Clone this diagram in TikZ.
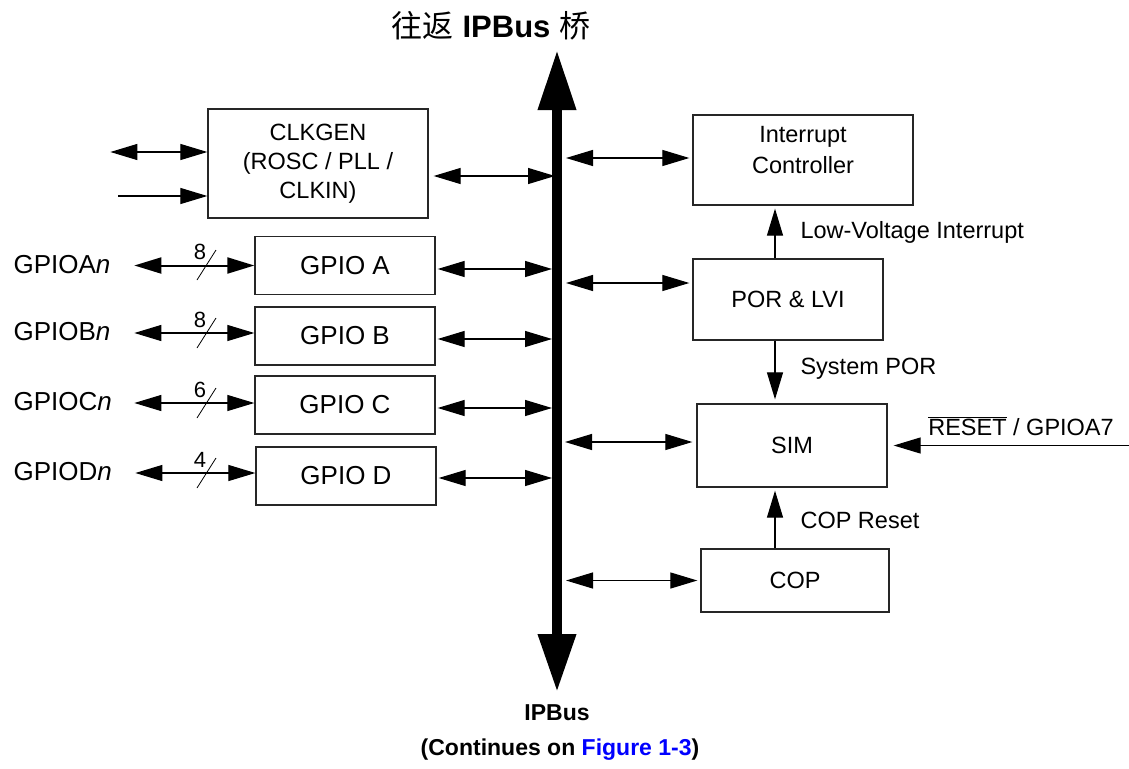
\documentclass[tikz,border=0pt]{standalone}
\usepackage{fontspec}
\setmainfont{Liberation Sans}
\newfontfamily\cjk{Noto Sans CJK SC}
\usetikzlibrary{arrows.meta,calc}
\begin{document}
\begin{tikzpicture}[x=1pt,y=-1pt,
  box/.style={draw=black!85, line width=1.3pt, inner sep=0pt, align=center},
  fmid/.style={font=\fontsize{23.5}{29}\selectfont},
  fbig/.style={font=\fontsize{26}{31}\selectfont},
  fnum/.style={font=\fontsize{22}{26}\selectfont},
  dbl/.style={line width=1.2pt, {Triangle[length=27pt,width=16pt]}-{Triangle[length=27pt,width=16pt]}},
  one/.style={line width=1.2pt, -{Triangle[length=27pt,width=16pt]}},
  busline/.style={line width=10pt, {Triangle[length=58pt,width=36pt]}-{Triangle[length=60pt,width=36pt]}},
  slash/.style={line width=0.8pt}
]
\useasboundingbox (0,0) rectangle (1129,768);

% title
\node[font=\fontsize{31}{37}\selectfont] (title) at (491,26) {{\cjk 往返} \textbf{IPBus} {\cjk 桥}};

% bus
\coordinate (busT) at (557,50);
\coordinate (busB) at (557,692);
\coordinate (busL) at (550,0);
\coordinate (busR) at (569,0);
\draw[busline] (busB) -- (busT);

\node[font=\bfseries\fontsize{23}{28}\selectfont] (ipb) at (557,713) {IPBus};
\node[font=\bfseries\fontsize{23}{28}\selectfont] (cont) at (560,750) {(Continues on \textcolor{blue}{Figure 1-3})};

% left blocks
\node[box, fmid, minimum width=220pt, minimum height=109pt] (clk) at (318,163.5) {CLKGEN\\(ROSC / PLL /\\CLKIN)};
\node[box, fbig, minimum width=180pt, minimum height=58pt] (gpa) at (345,265.5) {GPIO A};
\node[box, fbig, minimum width=180pt, minimum height=58pt] (gpb) at (345,336) {GPIO B};
\node[box, fbig, minimum width=180pt, minimum height=58pt] (gpc) at (345,405) {GPIO C};
\node[box, fbig, minimum width=180pt, minimum height=58pt] (gpd) at (346,476) {GPIO D};

% clkgen connectors
\draw[dbl] ([yshift=11.5pt]clk.west) -- ++(-97,0);
\draw[one] ([yshift=-32.5pt]clk.west) ++(-89,0) -- ([yshift=-32.5pt]clk.west);
\draw[dbl] ([yshift=-12.5pt,xshift=5pt]clk.east) -- ([yshift=-12.5pt,xshift=5pt]clk.east -| busL);

% GPIO labels
\node[fbig, anchor=west] (la) at (10,265) {GPIOA\textit{n}};
\node[fbig, anchor=west] (lb) at (10,332) {GPIOB\textit{n}};
\node[fbig, anchor=west] (lc) at (10,402) {GPIOC\textit{n}};
\node[fbig, anchor=west] (ld) at (10,472) {GPIOD\textit{n}};

% GPIO left connectors
\draw[dbl, line width=2pt] (gpa.west) -- ++(-120,0);
\draw[dbl] ([yshift=3pt]gpb.west) -- ++(-120,0);
\draw[dbl] ([yshift=2pt]gpc.west) -- ++(-120,0);
\draw[dbl] ([yshift=3pt]gpd.west) -- ++(-120,0);

% bus width marks
\draw[slash] (197,280) -- (216,250);
\draw[slash] (197,348) -- (216,318);
\draw[slash] (197,418) -- (216,388);
\draw[slash] (197,488) -- (216,458);
\node[fnum] (na) at (200,252) {8};
\node[fnum] (nb) at (200,320) {8};
\node[fnum] (nc) at (200,390) {6};
\node[fnum] (nd) at (200,460) {4};

% GPIO right connectors
\draw[dbl] ([yshift=-3.5pt,xshift=2pt]gpa.east) -- ([yshift=-3.5pt,xshift=2pt]gpa.east -| busL);
\draw[dbl] ([yshift=-3pt,xshift=2pt]gpb.east) -- ([yshift=-3pt,xshift=2pt]gpb.east -| busL);
\draw[dbl] ([yshift=-3pt,xshift=2pt]gpc.east) -- ([yshift=-3pt,xshift=2pt]gpc.east -| busL);
\draw[dbl] ([yshift=-2pt,xshift=2pt]gpd.east) -- ([yshift=-2pt,xshift=2pt]gpd.east -| busL);

% right blocks
\node[box, minimum width=220pt, minimum height=90pt] (ic) at (803,160) {};
\node[fmid, align=center] (ictext) at (803,150) {Interrupt\\[2pt]Controller};
\node[box, fmid, minimum width=190pt, minimum height=81pt] (por) at (788,299.5) {POR \& LVI};
\node[box, fmid, minimum width=190pt, minimum height=83pt] (sim) at (792,445.5) {SIM};
\node[box, fmid, minimum width=188pt, minimum height=63pt] (cop) at (795,580.5) {COP};

% right connectors to bus
\draw[dbl] ([yshift=2pt,xshift=-3pt]ic.west) -- ([yshift=2pt,xshift=-3pt]ic.west -| busR);
\draw[dbl] ([yshift=16.5pt,xshift=-3pt]por.west) -- ([yshift=16.5pt,xshift=-3pt]por.west -| busR);
\draw[dbl] ([yshift=3.5pt,xshift=-4pt]sim.west) -- ([yshift=3.5pt,xshift=-4pt]sim.west -| busR);
\draw[dbl] ([xshift=-3pt]cop.west) -- ([xshift=-3pt]cop.west -| busR);

% vertical signals
\draw[one, shorten >=3pt] ([xshift=-13pt]por.north) -- ([xshift=-13pt]por.north |- ic.south);
\draw[one, shorten >=4pt] ([xshift=-13pt]por.south) -- ([xshift=-13pt]por.south |- sim.north);
\draw[one, shorten >=3pt] ([xshift=-20pt]cop.north) -- ([xshift=-20pt]cop.north |- sim.south);
\node[fmid, anchor=west] (lvl) at (797,232) {Low-Voltage Interrupt};
\node[fmid, anchor=west] (spl) at (797,369) {System POR};
\node[fmid, anchor=west] (crl) at (797,520) {COP Reset};

% reset input
\coordinate (rst) at (1129,445.5);
\draw[one, shorten >=6pt] (rst) -- (sim.east);
\node[fmid] (rstl) at (1021,426) {$\overline{\mbox{RESET}}$ / GPIOA7};
\end{tikzpicture}
\end{document}
